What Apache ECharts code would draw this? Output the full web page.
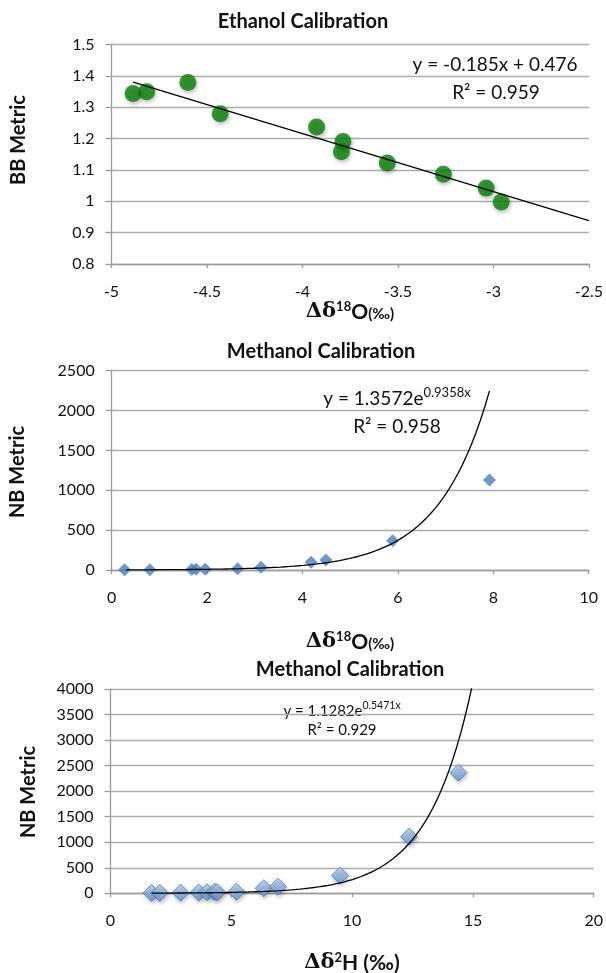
<!DOCTYPE html>
<html>
<head>
<meta charset="utf-8">
<script src="https://cdn.jsdelivr.net/npm/echarts@6/dist/echarts.min.js"></script>
<style>
  html, body { margin: 0; padding: 0; background: #fff; }
  #main { width: 606px; height: 973px; }
</style>
</head>
<body>
<div id="main"></div>
<script>
// Ethanol: BB metric vs delta 18O
const ethX = [-4.887, -4.816, -4.60, -4.431, -3.926, -3.788, -3.796, -3.556, -3.262, -3.038, -2.959];
const ethY = [1.344, 1.349, 1.379, 1.279, 1.237, 1.191, 1.158, 1.122, 1.086, 1.042, 0.998];

// Methanol: NB metric vs delta 18O
const methOX = [0.27, 0.80, 1.68, 1.77, 1.96, 2.64, 3.13, 4.18, 4.49, 5.89, 7.92];
const methOY = [2, 3, 6, 8, 10, 17, 33, 96, 125, 368, 1129];

// Methanol: NB metric vs delta 2H
const methHX = [1.70, 2.04, 2.90, 3.65, 4.00, 4.31, 4.41, 5.21, 6.34, 6.93, 9.50, 12.36, 14.40];
const methHY = [6, 8, 12, 15, 20, 32, 22, 30, 98, 130, 346, 1109, 2362];

// trendline coefficients, as printed on the chart
const ethFit = { slope: -0.185, intercept: 0.476, from: -4.887, to: -2.5 };
const methOFit = { a: 1.3572, b: 0.9358, from: 0.3, to: 7.92 };
const methHFit = { a: 1.1282, b: 0.5471, from: 1.7, to: 15 };

const FONT = 'Lato';

function linePts(f) {
  return [[f.from, f.slope * f.from + f.intercept], [f.to, f.slope * f.to + f.intercept]];
}
function expPts(f) {
  const pts = [];
  const n = 80;
  for (let i = 0; i <= n; i++) {
    const x = f.from + (f.to - f.from) * i / n;
    pts.push([x, f.a * Math.exp(f.b * x)]);
  }
  return pts;
}
function zip(xs, ys) {
  return xs.map((x, i) => [x, ys[i]]);
}

// text with superscripts: segments laid out on one baseline, widths measured
const mctx = document.createElement('canvas').getContext('2d');
function segFont(s) {
  return (s.weight || 'normal') + ' ' + s.size + 'px ' + (s.family || FONT);
}
function supText(cx, cy, segs) {
  const widths = segs.map(s => { mctx.font = segFont(s); return mctx.measureText(s.t).width; });
  const total = widths.reduce((a, b) => a + b, 0);
  const mainSize = Math.max.apply(null, segs.map(s => s.size));
  const base = cy + 0.32 * mainSize;
  let x = cx - total / 2;
  const children = segs.map((s, i) => {
    const el = {
      type: 'text', x: x, y: base - (s.rise || 0) - 0.32 * s.size,
      style: {
        text: s.t, fontSize: s.size, fontWeight: s.weight || 'normal',
        fontFamily: s.family || FONT, fill: '#111',
        textAlign: 'left', textVerticalAlign: 'middle'
      }
    };
    x += widths[i];
    return el;
  });
  return { type: 'group', children: children };
}

const chart = echarts.init(document.getElementById('main'));

const gridLine = { show: true, lineStyle: { color: '#adadad', width: 1.3 } };
const axisLine = { show: true, onZero: false, lineStyle: { color: '#9a9a9a', width: 1.3 } };
const lbl = { color: '#111', fontFamily: FONT, fontSize: 16, formatter: v => String(v) };

function xAx(idx, min, max, interval) {
  return {
    type: 'value', gridIndex: idx, min: min, max: max, interval: interval,
    axisLine: axisLine,
    axisTick: { show: true, length: 4, lineStyle: { color: '#9a9a9a', width: 1.3 } },
    axisLabel: Object.assign({ margin: 20 }, lbl),
    splitLine: { show: false }
  };
}
function yAx(idx, min, max, interval) {
  return {
    type: 'value', gridIndex: idx, min: min, max: max, interval: interval,
    axisLine: axisLine,
    axisTick: { show: true, length: 6, lineStyle: { color: '#9a9a9a', width: 1.3 } },
    axisLabel: Object.assign({ margin: 17 }, lbl, { formatter: v => String(+v.toFixed(2)) }),
    splitLine: gridLine
  };
}

function txt(x, y, text, opts) {
  return {
    type: 'text', x: x, y: y, rotation: opts.rotation || 0,
    style: Object.assign({
      text: text, fill: '#111', fontFamily: FONT,
      textAlign: 'center', textVerticalAlign: 'middle'
    }, opts.style)
  };
}

function o18Title(cx, cy) {
  return supText(cx, cy, [
    { t: 'Δδ', size: 21, weight: 'bold', family: 'DejaVu Serif' },
    { t: '18', size: 13, weight: 'bold', rise: 7.5 },
    { t: 'O', size: 21, weight: 'bold' },
    { t: '(‰)', size: 15, weight: 'bold' }
  ]);
}

const option = {
  animation: false,
  backgroundColor: '#fff',
  grid: [
    { left: 111.5, top: 44.5, width: 477.5, height: 219.5 },
    { left: 111.7, top: 370.7, width: 477, height: 199.3 },
    { left: 110.5, top: 689, width: 485, height: 204.3 }
  ],
  xAxis: [xAx(0, -5, -2.5, 0.5), xAx(1, 0, 10, 2), xAx(2, 0, 20, 5)],
  yAxis: [yAx(0, 0.8, 1.5, 0.1), yAx(1, 0, 2500, 500), yAx(2, 0, 4000, 500)],
  series: [
    {
      type: 'scatter', xAxisIndex: 0, yAxisIndex: 0, data: zip(ethX, ethY),
      symbol: 'circle', symbolSize: 17,
      itemStyle: { color: '#0a800a', shadowBlur: 4, shadowOffsetX: 1, shadowOffsetY: 2, shadowColor: 'rgba(0,0,0,0.35)' },
      z: 2
    },
    {
      type: 'line', xAxisIndex: 0, yAxisIndex: 0, data: linePts(ethFit),
      showSymbol: false, lineStyle: { color: '#000', width: 1.3 }, z: 3
    },
    {
      type: 'scatter', xAxisIndex: 1, yAxisIndex: 1, data: zip(methOX, methOY),
      symbol: 'diamond', symbolSize: 13,
      itemStyle: { color: '#4a7ebb' }, z: 2
    },
    {
      type: 'line', xAxisIndex: 1, yAxisIndex: 1, data: expPts(methOFit),
      showSymbol: false, smooth: false, lineStyle: { color: '#000', width: 1.3 }, z: 3
    },
    {
      type: 'scatter', xAxisIndex: 2, yAxisIndex: 2, data: zip(methHX, methHY),
      symbol: 'diamond', symbolSize: 17,
      itemStyle: {
        color: new echarts.graphic.LinearGradient(0, 0, 0, 1, [
          { offset: 0, color: '#bcd3f0' }, { offset: 1, color: '#5e8fd1' }
        ]),
        borderColor: '#4a7ebb', borderWidth: 1,
        shadowBlur: 4, shadowOffsetX: 1, shadowOffsetY: 2, shadowColor: 'rgba(0,0,0,0.3)'
      },
      z: 2
    },
    {
      type: 'line', xAxisIndex: 2, yAxisIndex: 2, data: expPts(methHFit),
      showSymbol: false, clip: true, lineStyle: { color: '#000', width: 1.3 }, z: 3
    }
  ],
  graphic: [
    // chart titles
    txt(303, 22, 'Ethanol Calibration', { style: { fontSize: 20, fontWeight: 'bold' } }),
    txt(321, 352, 'Methanol Calibration', { style: { fontSize: 20, fontWeight: 'bold' } }),
    txt(350, 670, 'Methanol Calibration', { style: { fontSize: 20, fontWeight: 'bold' } }),
    // y axis titles
    txt(18.5, 140, 'BB Metric', { rotation: Math.PI / 2, style: { fontSize: 20, fontWeight: 'bold' } }),
    txt(17.5, 472, 'NB Metric', { rotation: Math.PI / 2, style: { fontSize: 20, fontWeight: 'bold' } }),
    txt(29, 792, 'NB Metric', { rotation: Math.PI / 2, style: { fontSize: 20, fontWeight: 'bold' } }),
    // x axis titles
    o18Title(350, 312),
    o18Title(350, 642),
    supText(352, 963, [
      { t: 'Δδ', size: 21, weight: 'bold', family: 'DejaVu Serif' },
      { t: '2', size: 13, weight: 'bold', rise: 7.5 },
      { t: 'H (‰)', size: 21, weight: 'bold' }
    ]),
    // trendline equations
    txt(495, 65, 'y = -0.185x + 0.476', { style: { fontSize: 19 } }),
    txt(496, 93, 'R² = 0.959', { style: { fontSize: 19 } }),
    supText(397, 399, [
      { t: 'y = 1.3572e', size: 19 },
      { t: '0.9358x', size: 13, rise: 8 }
    ]),
    txt(397, 427, 'R² = 0.958', { style: { fontSize: 19 } }),
    supText(342, 711, [
      { t: 'y = 1.1282e', size: 15 },
      { t: '0.5471x', size: 10.5, rise: 6.5 }
    ]),
    txt(342, 730, 'R² = 0.929', { style: { fontSize: 15 } })
  ]
};

chart.setOption(option);
</script>
</body>
</html>
